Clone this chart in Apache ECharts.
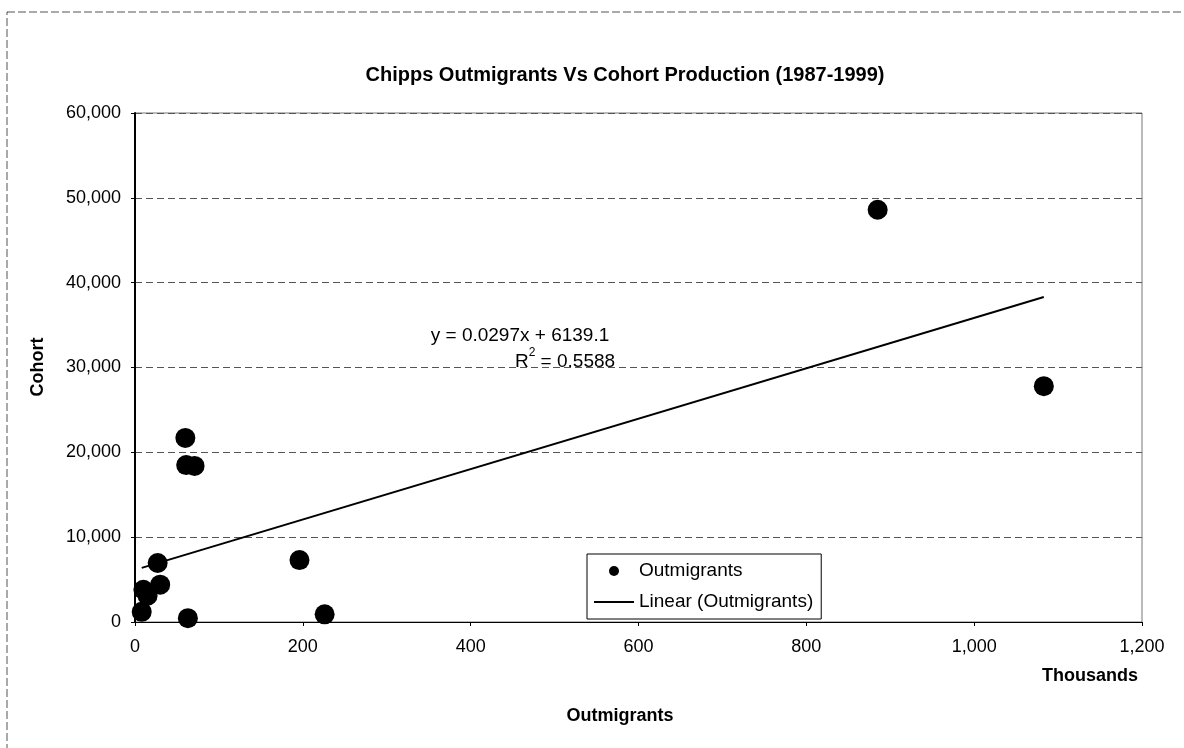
<!DOCTYPE html>
<html>
<head>
<meta charset="utf-8">
<script src="https://cdn.jsdelivr.net/npm/echarts@6/dist/echarts.min.js"></script>
<style>
  html, body { margin: 0; padding: 0; background: #fff; }
  #chart { width: 1184px; height: 748px; }
</style>
</head>
<body>
<div id="chart"></div>
<script>
// outmigrants (thousands) vs cohort, 1987-1999
const outmigrants = [885, 1083, 60, 61, 71, 27, 30, 10, 15, 8, 63, 196, 226];
const cohort = [48600, 27800, 21700, 18500, 18400, 6950, 4400, 3800, 3100, 1200, 450, 7300, 900];
const xTicks = [0, 200, 400, 600, 800, 1000, 1200];
const yTicks = [0, 10000, 20000, 30000, 40000, 50000, 60000];
// excel trendline, x in raw units (not thousands)
const slope = 0.0297;
const intercept = 6139.1;
const rSquared = '0.5588';

const font = 'Liberation Sans, Arial, sans-serif';

let points = outmigrants.map((x, i) => [x, cohort[i]]);
let xMin = Math.min(...outmigrants);
let xMax = Math.max(...outmigrants);
let trend = [
    [xMin, slope * xMin * 1000 + intercept],
    [xMax, slope * xMax * 1000 + intercept]
];

let myChart = echarts.init(document.getElementById('chart'));
let option = {
    backgroundColor: '#fff',
    animation: false,
    textStyle: { fontFamily: font, color: '#000' },
    grid: {
        left: 135,
        right: 42,
        top: 113,
        bottom: 126,
        show: true,
        borderColor: '#777',
        borderWidth: 1
    },
    legend: {
        orient: 'vertical',
        left: 587,
        top: 554,
        backgroundColor: '#fff',
        borderColor: '#000',
        borderWidth: 1,
        padding: [6, 8, 6, 6],
        itemGap: 9,
        itemWidth: 40,
        itemHeight: 10,
        textStyle: { fontFamily: font, fontSize: 19, lineHeight: 22, color: '#000' },
        data: [
            { name: 'Outmigrants', icon: 'circle' },
            { name: 'Linear (Outmigrants)', itemStyle: { opacity: 0 } }
        ]
    },
    xAxis: {
        type: 'value',
        min: 0,
        max: 1200,
        interval: 200,
        axisLine: { lineStyle: { color: '#000', width: 1 } },
        axisTick: { show: true, length: 4, lineStyle: { color: '#000' } },
        axisLabel: {
            fontSize: 18, color: '#000', margin: 16,
            formatter: v => xTicks.includes(v) ? v.toLocaleString('en-US') : ''
        },
        splitLine: { show: false }
    },
    yAxis: {
        type: 'value',
        min: 0,
        max: 60000,
        interval: 10000,
        axisLine: { show: true, lineStyle: { color: '#000', width: 2 } },
        axisTick: { show: true, length: 4, lineStyle: { color: '#000' } },
        axisLabel: {
            fontSize: 18, color: '#000', margin: 14,
            formatter: v => yTicks.includes(v) ? v.toLocaleString('en-US') : ''
        },
        splitLine: { show: true, lineStyle: { color: '#555', type: [7, 4], width: 1 } }
    },
    series: [
        {
            name: 'Outmigrants',
            type: 'scatter',
            symbol: 'circle',
            symbolSize: 20,
            itemStyle: { color: '#000', opacity: 1 },
            data: points,
            z: 3
        },
        {
            name: 'Linear (Outmigrants)',
            type: 'line',
            symbol: 'none',
            itemStyle: { color: '#000' },
            lineStyle: { color: '#000', width: 2 },
            data: trend,
            z: 2
        }
    ],
    graphic: [
        {
            type: 'rect',
            shape: { x: 7, y: 12, width: 1220, height: 800 },
            style: { fill: 'none', stroke: '#555', lineWidth: 1, lineDash: [8, 3] },
            silent: true
        },
        {
            type: 'text',
            x: 625,
            y: 75,
            style: {
                text: 'Chipps Outmigrants Vs Cohort Production (1987-1999)',
                font: 'bold 20px ' + font,
                fill: '#000',
                align: 'center',
                verticalAlign: 'middle'
            }
        },
        {
            type: 'text',
            x: 520,
            y: 336,
            style: {
                text: 'y = 0.0297x + 6139.1',
                font: '19px ' + font,
                fill: '#000',
                align: 'center',
                verticalAlign: 'middle'
            }
        },
        {
            type: 'text',
            x: 565,
            y: 359,
            style: {
                text: '{r|R}{s|2}{r| = ' + rSquared + '}',
                align: 'center',
                verticalAlign: 'middle',
                rich: {
                    r: { fontFamily: font, fontSize: 19, color: '#000', verticalAlign: 'bottom', lineHeight: 24 },
                    s: { fontFamily: font, fontSize: 12, color: '#000', verticalAlign: 'top', lineHeight: 24, padding: [0, 0, 12, 0] }
                }
            }
        },
        {
            type: 'text',
            x: 1090,
            y: 676,
            style: {
                text: 'Thousands', font: 'bold 18px ' + font, fill: '#000',
                align: 'center', verticalAlign: 'middle'
            }
        },
        {
            type: 'text',
            x: 620,
            y: 716,
            style: {
                text: 'Outmigrants', font: 'bold 18px ' + font, fill: '#000',
                align: 'center', verticalAlign: 'middle'
            }
        },
        {
            type: 'text',
            x: 38,
            y: 367,
            rotation: Math.PI / 2,
            style: {
                text: 'Cohort', font: 'bold 18px ' + font, fill: '#000',
                align: 'center', verticalAlign: 'middle'
            }
        }
    ]
};

if (option && typeof option === "object") {
    myChart.setOption(option, true);
}
</script>
</body>
</html>
